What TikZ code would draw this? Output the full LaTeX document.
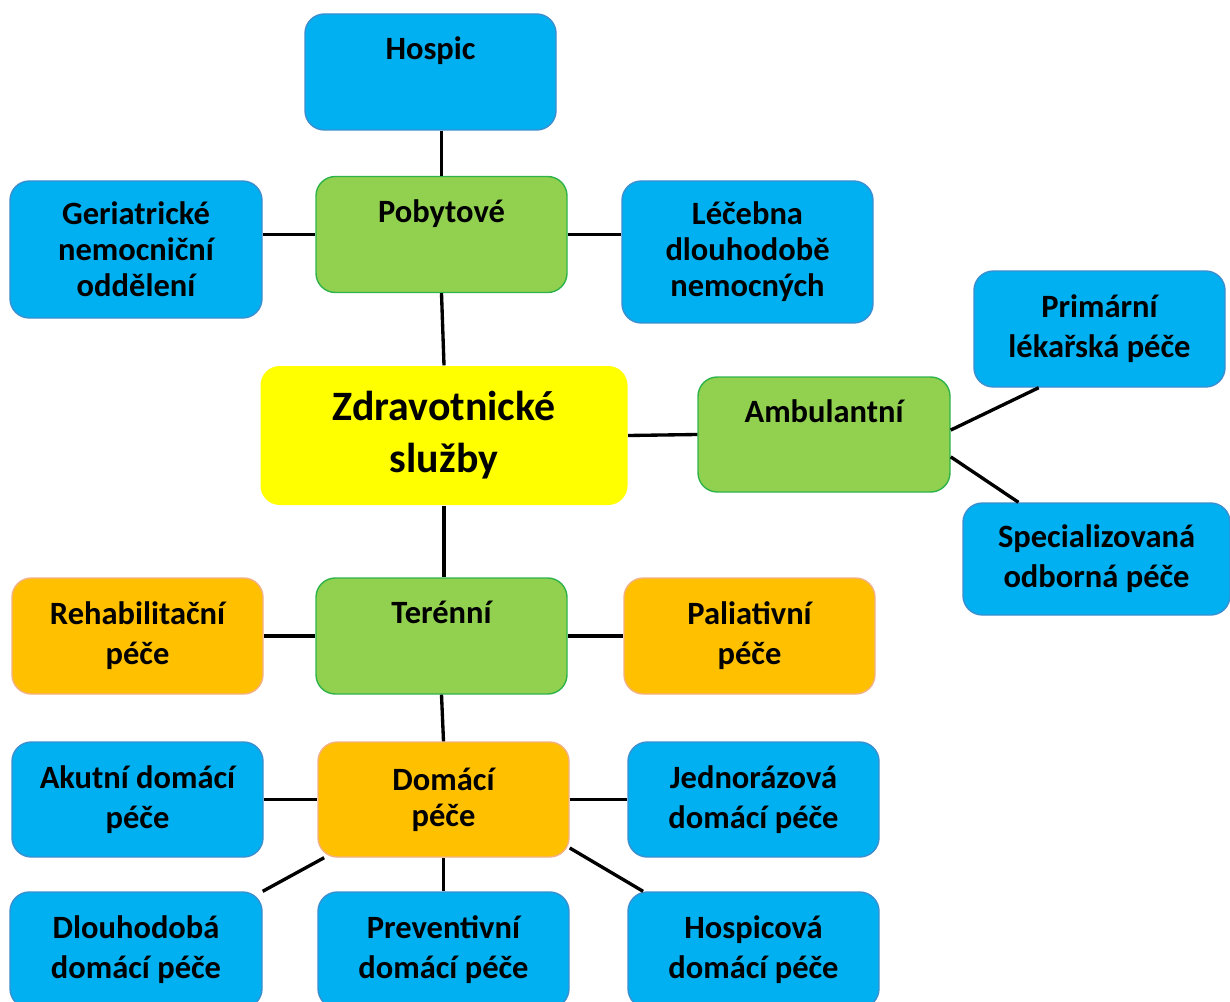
\documentclass[tikz,border=0pt]{standalone}
\usepackage{fontspec}
\setmainfont{Carlito}
\usepackage{tikz}
\usetikzlibrary{positioning}
\definecolor{hcblue}{HTML}{00B0F0}
\definecolor{hcblueline}{HTML}{3A8FD0}
\definecolor{hcgreen}{HTML}{92D050}
\definecolor{hcgreenline}{HTML}{2DB34A}
\definecolor{hcorange}{HTML}{FFC000}
\definecolor{hcorangeline}{HTML}{F4B183}
\definecolor{hcyellow}{HTML}{FFFF00}

\begin{document}
\begin{tikzpicture}[
  box/.style={rounded corners=11pt, minimum width=5.02cm, minimum height=2.32cm,
              align=center, inner sep=0pt, line width=0.8pt,
              font=\fontsize{18.5}{22.7}\selectfont\bfseries},
  tight/.style={font=\fontsize{18.5}{20.4}\selectfont\bfseries},
  svc/.style={box, draw=hcblueline, fill=hcblue},
  grp/.style={box, draw=hcgreenline, fill=hcgreen},
  care/.style={box, draw=hcorangeline, fill=hcorange},
  root/.style={box, fill=hcyellow, minimum width=7.34cm, minimum height=2.78cm,
               font=\fontsize{23.8}{29.5}\selectfont\bfseries},
  link/.style={draw=black, line width=1.9pt}
]
\useasboundingbox (0,0) rectangle (24.6,-20.04);

%% centre
\node[root] (zdrav) at (8.88,-8.71) {Zdravotnické\\služby};

%% inpatient branch
\node[grp] (poby) at (8.83,-4.69) {Pobytové\\[4.5pt]~};
\node[svc] (hospic) at (8.61,-1.44) {Hospic\\[4.5pt]~};
\node[svc, tight, minimum width=5.04cm, minimum height=2.74cm] (geri) at (2.72,-4.99)
  {Geriatrické\\nemocniční\\oddělení};
\node[svc, tight, minimum height=2.84cm] (lecebna) at (14.95,-5.04)
  {Léčebna\\dlouhodobě\\nemocných};

%% outpatient branch
\node[grp, minimum width=5.04cm, minimum height=2.3cm] (ambul) at (16.48,-8.69) {Ambulantní\\[4.5pt]~};
\node[svc] (primar) at (21.99,-6.58) {Primární\\lékařská péče};
\node[svc, minimum width=5.34cm, minimum height=2.24cm] (special) at (21.93,-11.18)
  {Specializovaná\\odborná péče};

%% field branch
\node[grp] (teren) at (8.83,-12.72) {Terénní\\[4.5pt]~};
\node[care] (rehab) at (2.75,-12.72) {Rehabilitační\\péče};
\node[care] (paliat) at (14.99,-12.72) {Paliativní\\péče};

%% home care
\node[care, tight, minimum height=2.3cm] (domaci) at (8.87,-15.99) {Domácí\\péče};
\node[svc, minimum height=2.3cm] (akut) at (2.75,-15.99) {Akutní domácí\\péče};
\node[svc, minimum height=2.3cm] (jednor) at (15.07,-15.99) {Jednorázová\\domácí péče};
\node[svc, minimum width=5.04cm] (dlouho) at (2.72,-19.0) {Dlouhodobá\\domácí péče};
\node[svc] (prevent) at (8.87,-19.0) {Preventivní\\domácí péče};
\node[svc] (hospicova) at (15.07,-19.0) {Hospicová\\domácí péče};

%% connectors
\draw[link] (hospic.south -| poby.north) -- (poby.north);
\draw[link] (poby.south) -- (zdrav.north);
\draw[link] (geri.east |- poby.west) -- (poby.west);
\draw[link] (poby.east) -- (lecebna.west |- poby.east);
\draw[link] (zdrav.east) -- (ambul.west);
\draw[link] (ambul.2) -- (primar.224);
\draw[link] (ambul.-10) -- (special.144);
\draw[link] (zdrav.south) -- (zdrav.south |- teren.north);
\draw[link] (rehab.east) -- (teren.west);
\draw[link] (teren.east) -- (paliat.west);
\draw[link] (teren.south) -- (domaci.north);
\draw[link] (akut.east) -- (domaci.west);
\draw[link] (domaci.east) -- (jednor.west);
\draw[link] (domaci.206) -- (dlouho.north east);
\draw[link] (domaci.south) -- (prevent.north);
\draw[link] (domaci.-21) -- (hospicova.152);

\end{tikzpicture}
\end{document}
